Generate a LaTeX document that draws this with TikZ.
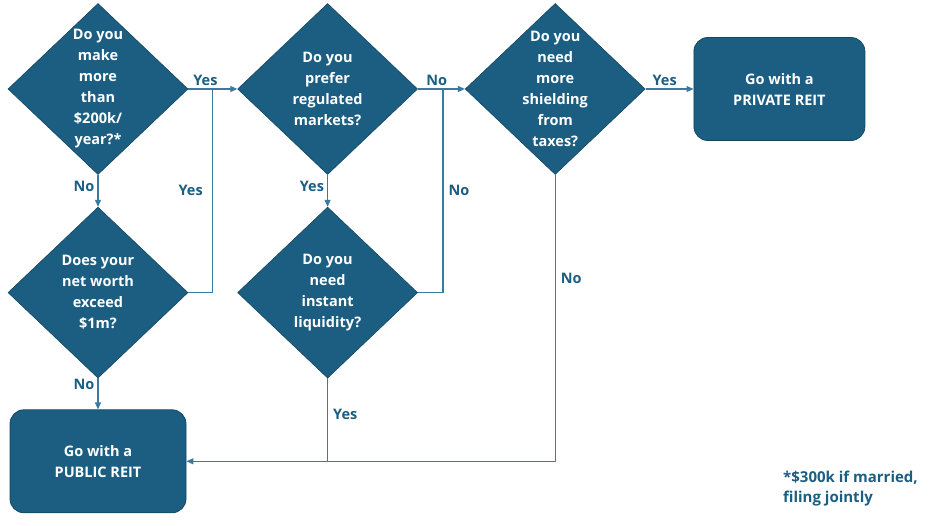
\documentclass[tikz,border=0pt]{standalone}
\usepackage{fontspec}
\setmainfont{Open Sans}
\usetikzlibrary{shapes.geometric, positioning, arrows.meta}

\definecolor{reitblue}{HTML}{1B5E82}
\definecolor{reitline}{HTML}{3A7A9E}
\definecolor{reitedge}{HTML}{14475F}

\tikzset{
	question/.style={diamond, fill=reitblue, draw=reitedge, line width=0.6pt,
		text=white, font=\fontsize{14.5}{21}\selectfont\bfseries, align=center,
		inner sep=-12pt, minimum width=180pt, minimum height=171pt},
	answer/.style={rectangle, rounded corners=14pt, fill=reitblue, draw=reitedge,
		line width=0.8pt, text=white, font=\fontsize{14.5}{21}\selectfont\bfseries,
		align=center, minimum height=103pt},
	link/.style={draw=reitline, line width=1.2pt},
	flow/.style={link, -{Triangle[length=7pt, width=6pt]}},
	lbl/.style={text=reitblue, font=\fontsize{14.5}{18}\selectfont\bfseries, inner sep=3pt},
}

\begin{document}
\begin{tikzpicture}[x=1pt, y=-1pt]
	\useasboundingbox (0,0) rectangle (936,526);
	
	\node[question] (income) at (98,89) {Do you\\make\\more\\than\\\$200k/\\year?*};
	\node[question, below=32pt of income] (worth) {Does your\\net worth\\exceed\\\$1m?};
	\node[question, right=49pt of income] (regulated) {Do you\\prefer\\regulated\\markets?};
	\node[question, below=32pt of regulated] (liquid) {Do you\\need\\instant\\liquidity?};
	\node[question, right=47pt of regulated] (taxes) {Do you\\need\\more\\shielding\\from\\taxes?};
	\node[answer, minimum width=171pt, right=48pt of taxes] (private) {Go with a\\PRIVATE REIT};
	\node[answer, minimum width=176pt, below=31pt of worth] (public) {Go with a\\PUBLIC REIT};
	
	\coordinate[right=24pt of income.east] (joinA);
	\coordinate[right=25pt of regulated.east] (joinB);
	\coordinate (joinC) at (liquid.south |- public.east);
	
	\draw[flow] (income.east) -- node[lbl, above, pos=0.35] {Yes} (regulated.west);
	\draw[flow] (income.south) -- node[lbl, left, pos=0.37] {No} (worth.north);
	\draw[link] (worth.east) -| node[lbl, left, pos=0.75, xshift=-6pt] {Yes} (joinA);
	\draw[flow] (worth.south) -- node[lbl, left, pos=0.2] {No} (public.north);
	
	\draw[flow] (regulated.east) -- node[lbl, above, pos=0.4] {No} (taxes.west);
	\draw[flow] (regulated.south) -- node[lbl, left, pos=0.37] {Yes} (liquid.north);
	\draw[link] (liquid.east) -| node[lbl, right, pos=0.75, xshift=2pt] {No} (joinB);
	\draw[link] (liquid.south) -- node[lbl, right, pos=0.44, xshift=2pt] {Yes} (joinC);
	
	\draw[flow] (taxes.east) -- node[lbl, above, pos=0.4] {Yes} (private.west);
	\draw[flow] (taxes.south) |- node[lbl, right, pos=0.18, xshift=2pt] {No} (public.east);
	
	\node[lbl, anchor=north west, align=left, font=\fontsize{15}{20}\selectfont\bfseries]
		(footnote) at (780,468) {*\$300k if married,\\filing jointly};
\end{tikzpicture}
\end{document}
